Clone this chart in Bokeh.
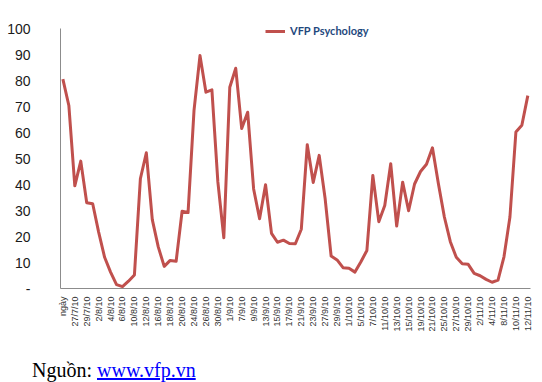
import math
from bokeh.plotting import figure
from bokeh.models import Range1d, FixedTicker, Legend, LegendItem, Div, ColumnDataSource
from bokeh.layouts import column
from bokeh.embed import file_html
from bokeh.resources import INLINE

tick_labels = ["ngày", "27/7/10", "29/7/10", "2/8/10", "4/8/10", "6/8/10", "10/8/10",
               "12/8/10", "16/8/10", "18/8/10", "20/8/10", "24/8/10", "26/8/10", "30/8/10",
               "1/9/10", "7/9/10", "9/9/10", "13/9/10", "15/9/10", "17/9/10", "21/9/10",
               "23/9/10", "27/9/10", "29/9/10", "1/10/10", "5/10/10", "7/10/10", "11/10/10",
               "13/10/10", "15/10/10", "19/10/10", "21/10/10", "25/10/10", "27/10/10",
               "29/10/10", "2/11/10", "4/11/10", "8/11/10", "10/11/10", "12/11/10"]

values = [80.5, 70.4, 39.5, 49.0, 33.0, 32.6, 21.7, 12.0, 6.3, 1.5,
          0.7, 2.8, 5.2, 42.2, 52.2, 26.5, 16.0, 8.5, 10.8, 10.5,
          29.7, 29.2, 68.5, 89.6, 75.5, 76.4, 41.0, 19.5, 77.4, 84.7,
          61.5, 67.8, 38.3, 26.8, 39.9, 21.2, 17.8, 18.6, 17.3, 17.2,
          22.8, 55.3, 40.8, 51.2, 34.5, 12.5, 11.0, 8.0, 7.8, 6.3,
          10.3, 14.6, 43.5, 25.7, 31.9, 48.0, 24.0, 40.9, 29.9, 40.2,
          45.0, 47.8, 54.1, 40.3, 27.5, 18.0, 12.0, 9.5, 9.3, 5.8,
          4.9, 3.5, 2.4, 3.2, 12.2, 27.5, 60.2, 62.8, 74.2]

series_name = "VFP Psychology"
y_ticks = [0, 10, 20, 30, 40, 50, 60, 70, 80, 90, 100]

idx = list(range(len(values)))
src = ColumnDataSource(dict(x=idx, y=values))

p = figure(width=542, height=358, output_backend="svg", toolbar_location=None,
           x_range=Range1d(-0.4, len(values) - 1 + 0.45), y_range=Range1d(0, 102.31),
           min_border_left=60, min_border_right=12, min_border_top=22, min_border_bottom=70)
p.outline_line_color = None
p.xgrid.visible = False
p.ygrid.visible = False
p.background_fill_color = "white"
p.border_fill_color = "white"

r = p.line("x", "y", source=src, line_color="#C0504D", line_width=3, line_join="round")

# y axis
p.yaxis.ticker = FixedTicker(ticks=y_ticks)
p.yaxis.bounds = (0, 100)
p.yaxis.major_label_overrides = {0: "-"}
p.yaxis.axis_line_color = "#8c8c8c"
p.yaxis.axis_line_width = 1
p.yaxis.major_tick_line_color = None
p.yaxis.minor_tick_line_color = None
p.yaxis.major_tick_out = 0
p.yaxis.major_label_standoff = 30
p.yaxis.major_label_text_font = "Liberation Sans"
p.yaxis.major_label_text_font_size = "14px"
p.yaxis.major_label_text_color = "#1a1a1a"

# x axis
even = idx[::2]
p.xaxis.ticker = FixedTicker(ticks=even)
p.xaxis.major_label_overrides = {i: tick_labels[k] for k, i in enumerate(even)}
p.xaxis.major_label_orientation = math.pi / 2
p.xaxis.axis_line_color = "#8c8c8c"
p.xaxis.major_tick_line_color = None
p.xaxis.minor_tick_line_color = None
p.xaxis.major_tick_out = 0
p.xaxis.major_label_standoff = 8
p.xaxis.major_label_text_font = "Liberation Sans"
p.xaxis.major_label_text_font_size = "9px"
p.xaxis.major_label_text_color = "#333333"

legend = Legend(items=[LegendItem(label=series_name, renderers=[r])],
                location=(205, 251), orientation="horizontal",
                glyph_width=20, glyph_height=12, label_height=12,
                label_standoff=5, padding=0, spacing=0, margin=0,
                background_fill_alpha=0, border_line_color=None,
                label_text_font="Lato", label_text_font_style="bold",
                label_text_font_size="11px", label_text_color="#1F497D")
p.add_layout(legend)

div = Div(text='<div style="font-family:\'Liberation Serif\';font-size:20px;color:#000;'
               'padding-left:32px;padding-top:0px;line-height:24px;white-space:nowrap;">Nguồn: '
               '<a href="http://www.vfp.vn" style="color:#0000FF;text-decoration:underline;">'
               'www.vfp.vn</a></div>',
          width=542, height=24, margin=0)

layout = column(p, div, spacing=0)
open("out.html", "w").write(file_html(layout, INLINE))
